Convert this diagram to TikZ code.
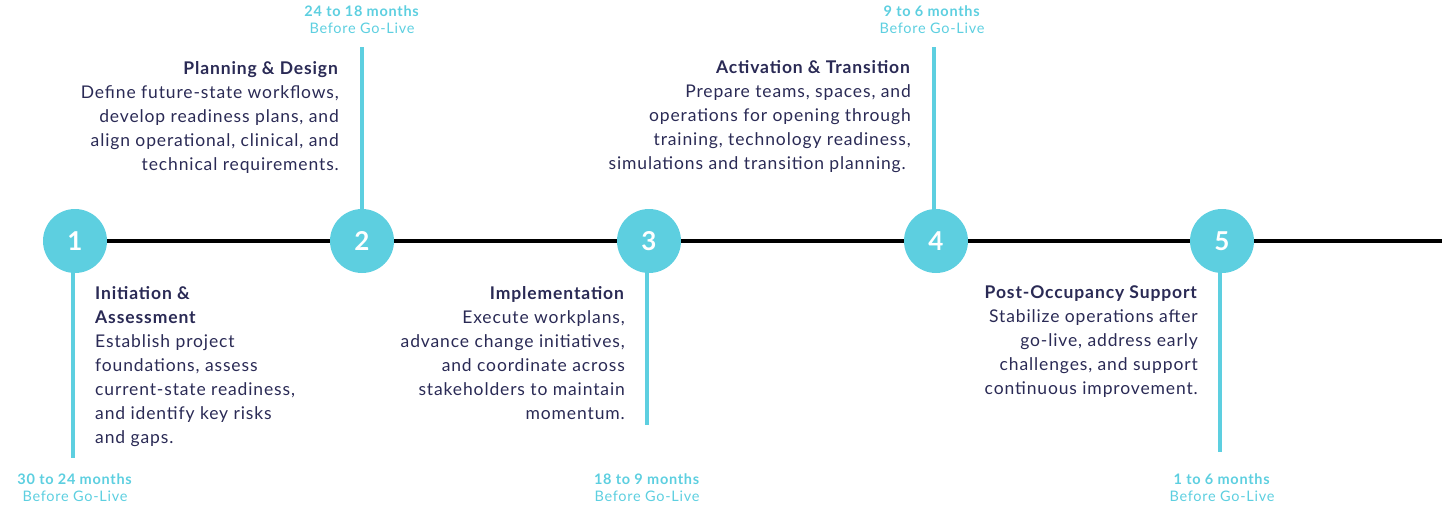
\documentclass[tikz,border=0pt]{standalone}
\usepackage{fontspec}
\setmainfont{Lato}
\definecolor{cy}{HTML}{5DCFE0}
\definecolor{nv}{HTML}{2A2A55}
\begin{document}
\begin{tikzpicture}[x=1pt,y=-1pt,
  circ/.style={circle,fill=cy,minimum size=64pt,inner sep=0,text=white,font=\fontsize{26}{26}\selectfont\bfseries},
  vl/.style={cy,line width=3.5pt},
  txt/.style={inner sep=0,text=nv,font=\fontsize{17.5}{24}\selectfont,
    execute at begin node=\addfontfeatures{LetterSpace=5}},
  lab/.style={inner sep=0,text=cy,align=center,font=\fontsize{14.5}{17}\selectfont,
    execute at begin node=\addfontfeatures{LetterSpace=5}}]
\useasboundingbox (0,0) rectangle (1442,511);
\coordinate (e) at (1442,241);
\node[circ] (c1) at (75,241) {1};
\node[circ] (c2) at (362,241) {2};
\node[circ] (c3) at (649,241) {3};
\node[circ] (c4) at (936,241) {4};
\node[circ] (c5) at (1222,241) {5};
\draw[line width=4pt] (c1.east) -- (c2.west) (c2.east) -- (c3.west) (c3.east) -- (c4.west) (c4.east) -- (c5.west) (c5.east) -- (e);
\coordinate (v1) at (73,458); \coordinate (v2) at (362,47); \coordinate (v3) at (647,425);
\coordinate (v4) at (934,47); \coordinate (v5) at (1220,452);
\draw[vl] (73,270) -- (v1);
\draw[vl] (362,212) -- (v2);
\draw[vl] (647,270) -- (v3);
\draw[vl] (934,212) -- (v4);
\draw[vl] (1220,270) -- (v5);
\node[lab,anchor=north] (l1) at (75,474) {\textbf{30 to 24 months}\\Before Go-Live};
\node[lab,anchor=north] (l2) at (362,6) {\textbf{24 to 18 months}\\Before Go-Live};
\node[lab,anchor=north] (l3) at (647,474) {\textbf{18 to 9 months}\\Before Go-Live};
\node[lab,anchor=north] (l4) at (932,6) {\textbf{9 to 6 months}\\Before Go-Live};
\node[lab,anchor=north] (l5) at (1222,474) {\textbf{1 to 6 months}\\Before Go-Live};
\node[txt,align=left,anchor=north west] (t1) at (95,286) {\textbf{Initiation \&}\\\textbf{Assessment}\\Establish project\\foundations, assess\\current-state readiness,\\and identify key risks\\and gaps.};
\node[txt,align=right,anchor=north east] (t2) at (339,61) {\textbf{Planning \& Design}\\Define future-state workflows,\\develop readiness plans, and\\align operational, clinical, and\\technical requirements.};
\node[txt,align=right,anchor=north east] (t3) at (625,286) {\textbf{Implementation}\\Execute workplans,\\advance change initiatives,\\and coordinate across\\stakeholders to maintain\\momentum.};
\node[txt,align=right,anchor=north east] (t4) at (911,60) {\textbf{Activation \& Transition}\\Prepare teams, spaces, and\\operations for opening through\\training, technology readiness,\\simulations and transition planning.\hspace*{5pt}};
\node[txt,align=right,anchor=north east] (t5) at (1198,286) {\textbf{Post-Occupancy Support}\\Stabilize operations after\hspace*{4pt}\\go-live, address early\\challenges, and support\\continuous improvement.};
\end{tikzpicture}
\end{document}
